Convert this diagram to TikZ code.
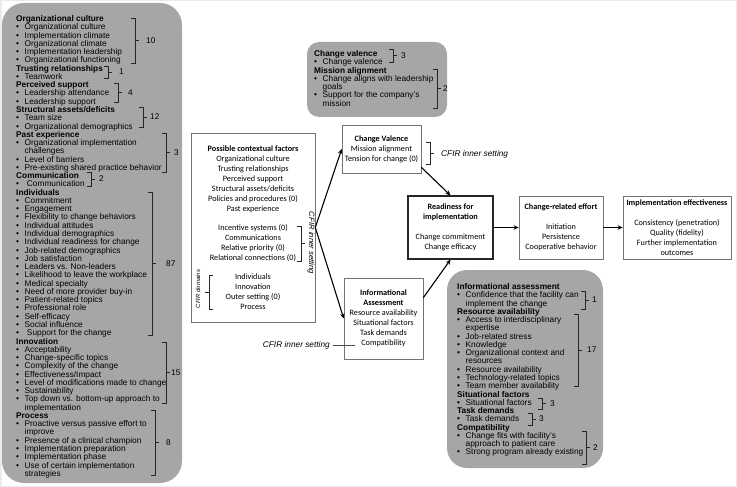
\documentclass[tikz,border=0pt]{standalone}
\usepackage{fontspec}
\setmainfont{Liberation Sans}
\newfontfamily\calfont{Carlito}
\usetikzlibrary{arrows.meta}
\definecolor{panelgrey}{RGB}{166,166,166}
\newcommand\pHead[1]{\hbox{\textbf{#1}}}
\newcommand\pBul[1]{\hbox{\makebox[8.5pt][l]{\textbullet}#1}}
\newcommand\pCont[1]{\hbox{\hspace*{8.5pt}#1}}
% right bracket: x, y1, y2, label x, label, name
\newcommand\cfbr[6]{%
  \draw[brk] (#1-4,#2) -- (#1,#2) -- (#1,#3) -- (#1-4,#3);
  \draw[brk] (#1,{(#2+#3)/2}) -- (#1+4,{(#2+#3)/2});
  \node[num] (#6) at (#4,{(#2+#3)/2}) {#5};}
\begin{document}
\begin{tikzpicture}[x=1pt,y=-1pt,
  panel/.style={fill=panelgrey, draw=none},
  ptext/.style={anchor=base west, inner sep=0pt, font=\fontsize{8.3}{8.27}\selectfont},
  brk/.style={draw=black!85, line width=0.5pt},
  num/.style={anchor=west, inner sep=0pt, font=\fontsize{8.3}{9}\selectfont},
  cbox/.style={draw=black!55, line width=0.6pt, fill=white, align=center,
    font=\calfont\fontsize{8.2}{10}\selectfont, inner sep=0pt},
  flow/.style={-{Stealth[length=5pt,width=4.5pt]}, line width=1.1pt},
  cfir/.style={font=\itshape\fontsize{8.3}{9}\selectfont, inner sep=1pt}]
\useasboundingbox (0,0) rectangle (737,487);
\draw[black!8, line width=1.5pt] (0.75,0.75) rectangle (736.25,486.25);

% ---------- left panel ----------
\fill[panel, rounded corners=22pt] (2,3) rectangle (182,483);
\node[ptext] (lefttext) at (16,21.5) {\vtop{\lineskiplimit=-\maxdimen
\pHead{Organizational culture}
\pBul{Organizational culture}
\pBul{Implementation climate}
\pBul{Organizational climate}
\pBul{Implementation leadership}
\pBul{Organizational functioning}
\pHead{Trusting relationships}
\pBul{Teamwork}
\pHead{Perceived support}
\pBul{Leadership attendance}
\pBul{Leadership support}
\pHead{Structural assets/deficits}
\pBul{Team size}
\pBul{Organizational demographics}
\pHead{Past experience}
\pBul{Organizational implementation}
\pCont{challenges}
\pBul{Level of barriers}
\pBul{Pre-existing shared practice behavior}
\pHead{Communication}
\pBul{\ Communication}
\pHead{Individuals}
\pBul{Commitment}
\pBul{Engagement}
\pBul{Flexibility to change behaviors}
\pBul{Individual attitudes}
\pBul{Individual demographics}
\pBul{Individual readiness for change}
\pBul{Job-related demographics}
\pBul{Job satisfaction}
\pBul{Leaders vs. Non-leaders}
\pBul{Likelihood to leave the workplace}
\pBul{Medical specialty}
\pBul{Need of more provider buy-in}
\pBul{Patient-related topics}
\pBul{Professional role}
\pBul{Self-efficacy}
\pBul{Social influence}
\pBul{\ Support for the change}
\pHead{Innovation}
\pBul{Acceptability}
\pBul{Change-specific topics}
\pBul{Complexity of the change}
\pBul{Effectiveness/Impact}
\pBul{Level of modifications made to change}
\pBul{Sustainability}
\pBul{Top down vs. bottom-up approach to}
\pCont{implementation}
\pHead{Process}
\pBul{Proactive versus passive effort to}
\pCont{improve}
\pBul{Presence of a clinical champion}
\pBul{Implementation preparation}
\pBul{Implementation phase}
\pBul{Use of certain implementation}
\pCont{strategies}}};
\cfbr{135}{18}{63}{146}{10}{nOC}
\cfbr{108}{66}{78}{119}{1}{nTR}
\cfbr{118}{83}{102}{128}{4}{nPS}
\cfbr{143}{107}{127}{150}{12}{nSA}
\cfbr{166}{133}{172}{174}{3}{nPE}
\cfbr{91}{172}{186}{99}{2}{nCO}
\cfbr{152}{192}{335}{166}{87}{nIN}
\cfbr{166}{342}{403}{171}{15}{nIV}
\cfbr{155}{410}{475}{166}{8}{nPR}

% ---------- top panel ----------
\fill[panel, rounded corners=12pt] (307,42) rectangle (447,117);
\node[ptext] (toptext) at (314,56.5) {\vtop{\lineskiplimit=-\maxdimen
\pHead{Change valence}
\pBul{Change valence}
\pHead{Mission alignment}
\pBul{Change aligns with leadership}
\pCont{goals}
\pBul{Support for the company's}
\pCont{mission}}};
\cfbr{393}{49}{62}{401}{3}{nCV}
\cfbr{437}{69}{108}{443}{2}{nMA}

% ---------- right panel ----------
\fill[panel, rounded corners=20pt] (447,270) rectangle (603,468);
\node[ptext] (righttext) at (457,289.5) {\vtop{\lineskiplimit=-\maxdimen
\pHead{Informational assessment}
\pBul{Confidence that the facility can}
\pCont{implement the change}
\pHead{Resource availability}
\pBul{Access to interdisciplinary}
\pCont{expertise}
\pBul{Job-related stress}
\pBul{Knowledge}
\pBul{Organizational context and}
\pCont{resources}
\pBul{Resource availability}
\pBul{Technology-related topics}
\pBul{Team member availability}
\pHead{Situational factors}
\pBul{Situational factors}
\pHead{Task demands}
\pBul{Task demands}
\pHead{Compatibility}
\pBul{Change fits with facility's}
\pCont{approach to patient care}
\pBul{Strong program already existing}}};
\cfbr{585}{291}{309}{592}{1}{nIA}
\cfbr{578}{314}{386}{587}{17}{nRA}
\cfbr{542}{398}{409}{550}{3}{nSF}
\cfbr{532}{413}{425}{539}{3}{nTD}
\cfbr{586}{431}{464}{593}{2}{nCP}

% ---------- central boxes ----------
\node[cbox, minimum width=124pt, minimum height=189pt] (ctx) at (253,227.5)
 {\textbf{Possible contextual factors}\\Organizational culture\\Trusting relationships\\Perceived support\\Structural assets/deficits\\Policies and procedures (0)\\Past experience\\[9pt]Incentive systems (0)\\Communications\\Relative priority (0)\\Relational connections (0)\\[9pt]Individuals\\Innovation\\Outer setting (0)\\Process};
\draw[brk] (297,226) -- (301,226) -- (301,261) -- (297,261);
\draw[brk] (301,243.5) -- (305,243.5);
\node[font=\itshape\fontsize{7.7}{9}\selectfont, inner sep=0pt, rotate=-90] (cfirin1) at (311,243) {CFIR inner setting};
\draw[brk] (213,275) -- (209,275) -- (209,309) -- (213,309);
\draw[brk] (209,292) -- (205,292);
\node[font=\itshape\fontsize{6}{7}\selectfont, inner sep=0pt, rotate=90] (cfirdom) at (198,289) {CFIR domains};

\node[cbox, minimum width=79pt, minimum height=48pt] (cv) at (381.5,149)
 {\textbf{Change Valence}\\Mission alignment\\Tension for change (0)};
\draw[brk] (426,142) -- (430,142) -- (430,164) -- (426,164);
\draw[brk] (430,153) -- (434,153);
\node[cfir, anchor=west] (cfirin2) at (440,154) {CFIR inner setting};

\node[cbox, minimum width=79pt, minimum height=81pt] (info) at (383.5,318.5)
 {\textbf{Informational}\\\textbf{Assessment}\\Resource availability\\Situational factors\\Task demands\\Compatibility};
\node[cfir, anchor=east] (cfirin3) at (331,345) {CFIR inner setting};
\coordinate (compl) at (355,345);
\draw[black!70, line width=0.5pt] (cfirin3.east) ++(2,0) -- (compl);

\node[cbox, draw=black!85, line width=1.2pt, minimum width=85pt, minimum height=63pt] (rd) at (450.5,227.5)
 {\textbf{Readiness for}\\\textbf{implementation}\\[10pt]Change commitment\\Change efficacy};
\node[cbox, minimum width=84pt, minimum height=63pt] (cre) at (561,227.5)
 {\textbf{Change-related effort}\\[10pt]Initiation\\Persistence\\Cooperative behavior};
\node[cbox, minimum width=108pt, minimum height=63pt] (ie) at (677,227.5)
 {\textbf{Implementation effectiveness}\\[10pt]Consistency (penetration)\\Quality (fidelity)\\Further implementation\\outcomes};

% ---------- connectors ----------
\draw[flow] (ctx.east) -- (cv.west);
\draw[flow] (ctx.east) -- (info.west);
\draw[flow] ([yshift=6pt]cv.south east) -- (rd.north);
\draw[flow] ([yshift=-20pt]info.north east) -- (rd.south);
\draw[flow] (rd.east) -- (cre.west);
\draw[flow] (cre.east) -- (ie.west);
\end{tikzpicture}
\end{document}
